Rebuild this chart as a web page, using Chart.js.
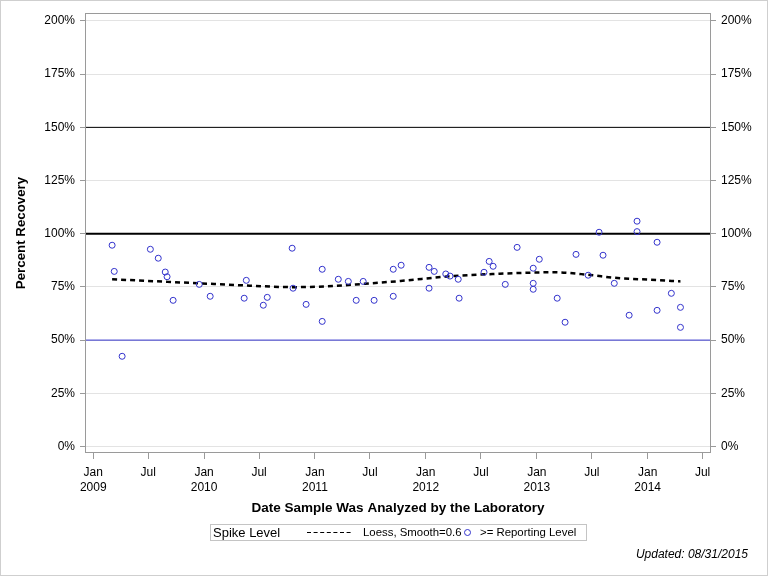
<!DOCTYPE html>
<html>
<head>
<meta charset="utf-8">
<script src="https://cdn.jsdelivr.net/npm/chart.js@4.4.1/dist/chart.umd.min.js"></script>
<style>
  body { margin: 0; background: #fff; font-family: "Liberation Sans", Arial, sans-serif; }
  #wrap { position: relative; width: 768px; height: 576px; overflow: hidden; }
  #chart { position: absolute; left: 0; top: 0; }
  #frame { position: absolute; left: 0; top: 0; width: 768px; height: 576px; box-sizing: border-box; border: 1px solid #cfcfcf; pointer-events: none; }
  #legend { position: absolute; left: 210px; top: 524px; width: 377px; height: 17px; box-sizing: border-box; border: 1px solid #c4c4c4; }
  .lg { position: absolute; top: 0; line-height: 15px; white-space: nowrap; color: #000; }
  #updated { position: absolute; right: 20px; top: 547px; font-size: 12px; font-style: italic; color: #000; }
</style>
</head>
<body>
<div id="wrap">
  <canvas id="chart" width="768" height="576"></canvas>
  <div id="legend">
    <span class="lg" style="left:2px;font-size:13px;">Spike Level</span>
    <svg class="lg" style="left:96px;top:0" width="48" height="15"><line x1="0" y1="7.5" x2="46" y2="7.5" stroke="#000" stroke-width="1" stroke-dasharray="4,2.6"/></svg>
    <span class="lg" style="left:152px;font-size:11.4px;">Loess, Smooth=0.6</span>
    <svg class="lg" style="left:250px;top:0" width="14" height="15"><circle cx="6.5" cy="7.5" r="3" fill="none" stroke="#3333cc" stroke-width="1"/></svg>
    <span class="lg" style="left:269px;font-size:11.4px;">&gt;= Reporting Level</span>
  </div>
  <div id="updated">Updated: 08/31/2015</div>
  <div id="frame"></div>
</div>
<script>
// ===== DATA =====
const xTickDates = ["2009-01-01", "2009-07-01", "2010-01-01", "2010-07-01", "2011-01-01", "2011-07-01",
  "2012-01-01", "2012-07-01", "2013-01-01", "2013-07-01", "2014-01-01", "2014-07-01"];
const xTickLabels = [["Jan", "2009"], "Jul", ["Jan", "2010"], "Jul", ["Jan", "2011"], "Jul",
  ["Jan", "2012"], "Jul", ["Jan", "2013"], "Jul", ["Jan", "2014"], "Jul"];
const yTicks = [0, 25, 50, 75, 100, 125, 150, 175, 200];

const sampleDates = [
  "2009-03-04", "2009-03-11", "2009-04-06", "2009-07-08", "2009-08-03", "2009-08-26", "2009-09-01", "2009-09-21",
  "2009-12-16", "2010-01-21", "2010-05-13", "2010-05-20", "2010-07-15", "2010-07-28", "2010-10-18", "2010-10-21",
  "2010-12-03", "2011-01-25", "2011-01-25", "2011-03-19", "2011-04-21", "2011-05-17", "2011-06-09", "2011-07-15",
  "2011-09-16", "2011-09-16", "2011-10-12", "2012-01-12", "2012-01-12", "2012-01-29", "2012-03-07", "2012-03-21",
  "2012-04-17", "2012-04-20", "2012-07-11", "2012-07-28", "2012-08-10", "2012-09-19", "2012-10-28", "2012-12-20",
  "2012-12-20", "2012-12-20", "2013-01-09", "2013-03-09", "2013-04-04", "2013-05-10", "2013-06-19", "2013-07-25",
  "2013-08-07", "2013-09-13", "2013-11-01", "2013-11-27", "2013-11-27", "2014-02-01", "2014-02-01", "2014-03-20",
  "2014-04-19", "2014-04-19"
];
const recovery = [
  94.6, 82.3, 42.4, 92.7, 88.5, 82.0, 79.8, 68.7,
  76.2, 70.6, 69.7, 78.1, 66.4, 70.1, 93.2, 74.4,
  66.8, 83.3, 58.8, 78.6, 77.6, 68.7, 77.6, 68.7,
  83.3, 70.6, 85.2, 84.2, 74.4, 82.3, 81.1, 80.1,
  78.6, 69.7, 81.9, 87.0, 84.7, 76.2, 93.6, 83.8,
  76.7, 73.9, 88.0, 69.7, 58.4, 90.3, 80.5, 100.7,
  89.9, 76.7, 61.7, 105.9, 101.0, 96.0, 64.0, 72.0,
  65.4, 56.0
];

const loessDates = ["2009-03-04", "2009-09-01", "2009-12-16", "2010-06-01", "2010-10-20", "2011-03-01",
  "2011-06-15", "2011-10-10", "2012-03-20", "2012-09-01", "2012-12-10", "2013-03-01", "2013-06-25",
  "2013-09-15", "2014-01-08", "2014-04-19"];
const loessValues = [78.6, 77.4, 76.7, 75.6, 74.9, 75.4, 76.5, 77.8, 80.0, 81.2, 81.7, 81.9, 80.6, 79.3, 78.4, 77.6];

const refLevels = [50, 100, 150];

// ===== HELPERS =====
const DAY0 = Date.UTC(2009, 0, 1);
function toDay(s) {
  const [y, m, d] = s.split("-").map(Number);
  return (Date.UTC(y, m - 1, d) - DAY0) / 86400000;
}

const X_MIN = -27.3, X_MAX = 2034.6;
const Y_MIN = -3.06, Y_MAX = 203.76;
const FONT = "'Liberation Sans', Arial, sans-serif";
const AXIS_GREY = "#9a9a9a";

const points = sampleDates.map((d, i) => ({ x: toDay(d), y: recovery[i] }));
const loess = loessDates.map((d, i) => ({ x: toDay(d), y: loessValues[i] }));
const refStyles = [
  { color: "#3333cc", width: 1 },
  { color: "#000000", width: 2 },
  { color: "#000000", width: 1 }
];

const framePlugin = {
  id: "frame",
  afterDraw(chart) {
    const { ctx, chartArea: a } = chart;
    ctx.save();
    ctx.strokeStyle = AXIS_GREY;
    ctx.lineWidth = 1;
    ctx.strokeRect(Math.round(a.left) + 0.5, Math.round(a.top) + 0.5,
      Math.round(a.right - a.left) - 1, Math.round(a.bottom - a.top) - 1);
    ctx.restore();
  }
};

function yAxis(pos) {
  return {
    type: "linear",
    position: pos,
    min: Y_MIN,
    max: Y_MAX,
    afterBuildTicks: s => { s.ticks = yTicks.map(v => ({ value: v })); },
    afterFit: s => { s.width = pos === "left" ? 85 : 57; },
    grid: {
      drawOnChartArea: pos === "left",
      color: "#e3e3e3",
      tickColor: AXIS_GREY,
      tickLength: 5
    },
    border: { display: false },
    ticks: {
      padding: 5,
      color: "#000",
      font: { family: FONT, size: 12 },
      callback: v => v + "%"
    },
    title: {
      display: pos === "left",
      text: "Percent Recovery",
      color: "#000",
      font: { family: FONT, size: 13.3, weight: "bold" },
      padding: { top: 13, bottom: 0 }
    }
  };
}

new Chart(document.getElementById("chart"), {
  type: "scatter",
  data: {
    datasets: [
      {
        label: ">= Reporting Level",
        data: points,
        pointStyle: "circle",
        pointRadius: 3,
        pointBorderWidth: 1,
        pointBorderColor: "#3333cc",
        pointBackgroundColor: "rgba(0,0,0,0)"
      },
      {
        label: "Loess, Smooth=0.6",
        data: loess,
        showLine: true,
        pointRadius: 0,
        borderColor: "#000",
        borderWidth: 2.5,
        borderDash: [5, 4],
        cubicInterpolationMode: "monotone"
      },
      ...refLevels.map((lvl, i) => ({
        label: "Spike Level",
        data: [{ x: X_MIN, y: lvl }, { x: X_MAX, y: lvl }],
        showLine: true,
        pointRadius: 0,
        borderColor: refStyles[i].color,
        borderWidth: refStyles[i].width
      }))
    ]
  },
  options: {
    responsive: false,
    animation: false,
    layout: { padding: { top: 13, left: 0, right: 0, bottom: 0 } },
    plugins: { legend: { display: false }, tooltip: { enabled: false } },
    scales: {
      x: {
        type: "linear",
        position: "bottom",
        min: X_MIN,
        max: X_MAX,
        afterBuildTicks: s => { s.ticks = xTickDates.map(d => ({ value: toDay(d) })); },
        afterFit: s => { s.height = 123; },
        grid: { drawOnChartArea: false, tickColor: AXIS_GREY, tickLength: 6 },
        border: { display: false },
        ticks: {
          padding: 6,
          maxRotation: 0,
          autoSkip: false,
          color: "#000",
          font: { family: FONT, size: 12, lineHeight: 1.25 },
          callback: (v, i) => xTickLabels[i]
        },
        title: {
          display: true,
          text: "Date Sample Was Analyzed by the Laboratory",
          color: "#000",
          font: { family: FONT, size: 13.5, weight: "bold" },
          padding: { top: 0, bottom: 60 }
        }
      },
      y: yAxis("left"),
      y2: yAxis("right")
    }
  },
  plugins: [framePlugin]
});
</script>
</body>
</html>
